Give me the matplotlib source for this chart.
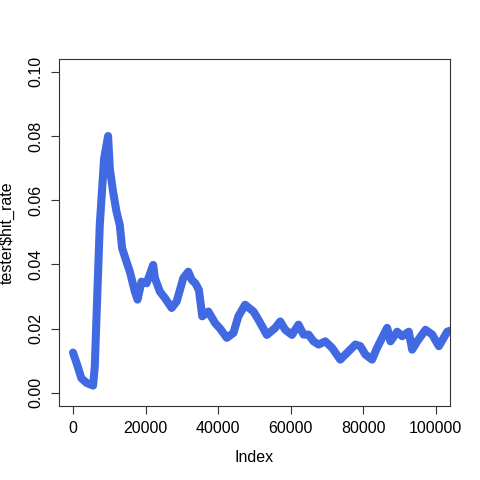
import matplotlib
matplotlib.use("Agg")
import matplotlib.pyplot as plt

# values
index = [0, 1200, 2300, 3800, 5530, 6000, 6470, 7380, 8570, 9680, 10150, 11060,
         12000, 12910, 13550, 14760, 15680, 17060, 17800, 18900, 20300, 22120,
         22590, 23970, 25350, 27210, 28590, 30420, 31800, 32740, 33800, 34730,
         35650, 37330, 39180, 40560, 42420, 44240, 45620, 47470, 49780, 51170,
         53480, 55790, 57170, 58540, 60400, 62200, 63600, 64980, 66360, 67740,
         69600, 71450, 73740, 75600, 77900, 79270, 80650, 82500, 83890, 86660,
         87580, 89430, 90810, 92630, 93560, 94950, 97250, 99100, 100930,
         103240, 106000]
hit_rate = [0.0125, 0.0085, 0.0045, 0.0030, 0.0022, 0.0080, 0.0233, 0.0522,
            0.0729, 0.0800, 0.0698, 0.0626, 0.0564, 0.0522, 0.0450, 0.0408,
            0.0377, 0.0315, 0.0290, 0.0346, 0.0341, 0.0398, 0.0357, 0.0315,
            0.0295, 0.0264, 0.0284, 0.0357, 0.0377, 0.0352, 0.0340, 0.0320,
            0.0238, 0.0253, 0.0217, 0.0200, 0.0171, 0.0186, 0.0238, 0.0274,
            0.0253, 0.0227, 0.0180, 0.0202, 0.0222, 0.0196, 0.0180, 0.0212,
            0.0181, 0.0181, 0.0160, 0.0150, 0.0160, 0.0140, 0.0103, 0.0124,
            0.0150, 0.0145, 0.0119, 0.0103, 0.0140, 0.0202, 0.0160, 0.0190,
            0.0176, 0.0190, 0.0134, 0.0160, 0.0196, 0.0181, 0.0145, 0.0190,
            0.0200]

xticks = [0, 20000, 40000, 60000, 80000, 100000]
yticks = [0.00, 0.02, 0.04, 0.06, 0.08, 0.10]

plt.rcParams['font.family'] = ['Liberation Sans', 'DejaVu Sans']

fig = plt.figure(figsize=(4.8, 4.8), dpi=100)
ax = fig.add_axes([0.1219, 0.1552, 0.8156, 0.7219])

ax.plot(index, hit_rate, color='royalblue', lw=5.8, solid_capstyle='round',
        solid_joinstyle='round')

ax.set_xlim(-4000, 104000)
ax.set_ylim(-0.004, 0.104)
ax.set_xticks(xticks)
ax.set_xticklabels([str(t) for t in xticks])
ax.set_yticks(yticks)
ax.set_yticklabels(['%.2f' % t for t in yticks], rotation=90, va='center')
ax.tick_params(direction='out', length=6, width=0.8, labelsize=11.5, pad=5,
               color='#333333')
for s in ax.spines.values():
    s.set_linewidth(0.8)
    s.set_color('#333333')

ax.set_xlabel('Index', fontsize=11.5, labelpad=10)
ax.set_ylabel('tester$hit_rate', fontsize=11.5, labelpad=10)

fig.savefig('out.png', dpi=100)
